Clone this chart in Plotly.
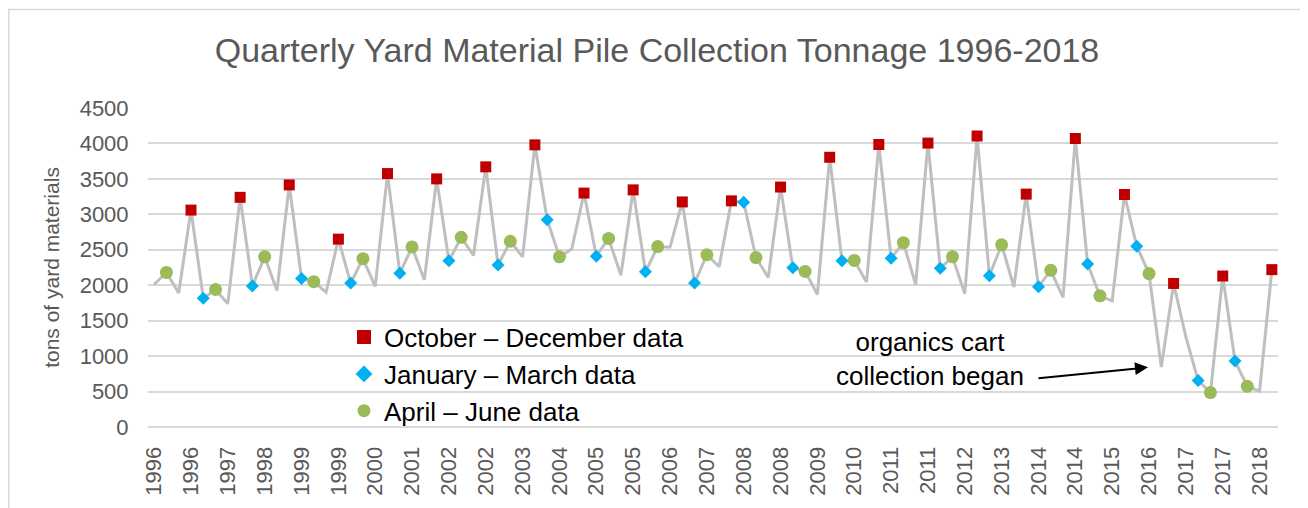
import plotly.graph_objects as go

# ---- data ----
tonnage = [
    2010, 2180, 1890, 3060, 1815, 1940, 1740, 3240, 1990, 2400,
    1925, 3415, 2095, 2050, 1900, 2650, 2030, 2375, 1985, 3575,
    2170, 2540, 2075, 3500, 2345, 2675, 2420, 3670, 2285, 2620,
    2400, 3980, 2925, 2400, 2510, 3300, 2410, 2660, 2140, 3345,
    2190, 2545, 2535, 3175, 2030, 2430, 2260, 3190, 3170, 2390,
    2110, 3385, 2245, 2195, 1870, 3805, 2345, 2350, 2045, 3985,
    2380, 2600, 2010, 4005, 2240, 2400, 1880, 4105, 2135, 2570,
    1975, 3285, 1980, 2210, 1830, 4070, 2300, 1850, 1780, 3280,
    2550, 2165, 845, 2025, 1270, 655, 485, 2130, 930, 575,
    505, 2220,
]
# season of each point: "OD" Oct-Dec, "JM" Jan-Mar, "AJ" Apr-Jun, "" unmarked
season = [
    "", "AJ", "", "OD", "JM", "AJ", "", "OD", "JM", "AJ",
    "", "OD", "JM", "AJ", "", "OD", "JM", "AJ", "", "OD",
    "JM", "AJ", "", "OD", "JM", "AJ", "", "OD", "JM", "AJ",
    "", "OD", "JM", "AJ", "", "OD", "JM", "AJ", "", "OD",
    "JM", "AJ", "", "OD", "JM", "AJ", "", "OD", "JM", "AJ",
    "", "OD", "JM", "AJ", "", "OD", "JM", "AJ", "", "OD",
    "JM", "AJ", "", "OD", "JM", "AJ", "", "OD", "JM", "AJ",
    "", "OD", "JM", "AJ", "", "OD", "JM", "AJ", "", "OD",
    "JM", "AJ", "", "OD", "", "JM", "AJ", "OD", "JM", "AJ",
    "", "OD",
]
tick_labels = ["1996", "1996", "1997", "1998", "1999", "1999", "2000", "2001",
               "2002", "2002", "2003", "2004", "2005", "2005", "2006", "2007",
               "2008", "2008", "2009", "2010", "2011", "2011", "2012", "2013",
               "2014", "2014", "2015", "2016", "2017", "2017", "2018"]
series_names = {"OD": "October \u2013 December data",
                "JM": "January \u2013 March data",
                "AJ": "April \u2013 June data"}

x_idx = list(range(len(tonnage)))
tick_vals = x_idx[::3]

FONT = "Liberation Sans"
GREY = "#595959"

fig = go.Figure()
fig.add_trace(go.Scatter(x=x_idx, y=tonnage, mode="lines",
                         line=dict(color="#BFBFBF", width=3),
                         showlegend=False, hoverinfo="skip"))

styles = {
    "OD": dict(symbol="square", color="#C00000", size=11, lsize=14),
    "JM": dict(symbol="diamond", color="#00B0F0", size=10, lsize=13),
    "AJ": dict(symbol="circle", color="#9BBB59", size=13, lsize=13),
}
for key in ["OD", "JM", "AJ"]:
    st = styles[key]
    xs = [i for i, s in zip(x_idx, season) if s == key]
    ys = [v for v, s in zip(tonnage, season) if s == key]
    fig.add_trace(go.Scatter(x=xs, y=ys, mode="markers", name=series_names[key],
                             marker=dict(symbol=st["symbol"], color=st["color"],
                                         size=st["size"], line=dict(width=0)),
                             showlegend=False))
    # legend entry with the larger legend symbol
    fig.add_trace(go.Scatter(x=[None], y=[None], mode="markers", name=series_names[key],
                             marker=dict(symbol=st["symbol"], color=st["color"],
                                         size=st["lsize"], line=dict(width=0)),
                             showlegend=True))

# the page body adds an 8px offset; figure is sized to fit the window
OFF = 8
W, H = 1300, 500
L, R, T, B = 140, 30, 100, 79
pw, ph = W - L - R, H - T - B

def px_x(p):  # page x -> paper
    return (p - OFF - L) / pw

def px_y(p):  # page y -> paper
    return (H - B - (p - OFF)) / ph

fig.update_layout(
    width=W, height=H,
    margin=dict(l=L, r=R, t=T, b=B),
    paper_bgcolor="white", plot_bgcolor="white",
    title=dict(text="Quarterly Yard Material Pile Collection Tonnage 1996-2018",
               font=dict(family=FONT, size=34, color=GREY),
               x=(657 - OFF) / W, xanchor="center",
               y=1 - (50 - OFF) / H, yanchor="middle",
               xref="container", yref="container"),
    xaxis=dict(range=[-0.5, len(tonnage) - 0.5], tickmode="array",
               tickvals=tick_vals, ticktext=tick_labels, tickangle=-90,
               tickfont=dict(family=FONT, size=22, color=GREY),
               showgrid=False, zeroline=False, showline=False,
               ticks="outside", ticklen=10, tickcolor="rgba(0,0,0,0)"),
    yaxis=dict(range=[0, 4500], tickmode="linear", tick0=0, dtick=500,
               tickfont=dict(family=FONT, size=22, color=GREY),
               showgrid=True, gridcolor="#D9D9D9", gridwidth=1.5,
               zeroline=True, zerolinecolor="#D9D9D9", zerolinewidth=1.5,
               showline=False, ticks="outside", ticklen=14,
               tickcolor="rgba(0,0,0,0)",
               title=dict(text="tons of yard materials",
                          font=dict(family=FONT, size=21, color=GREY),
                          standoff=14)),
    legend=dict(x=px_x(344), y=px_y(315), xanchor="left", yanchor="top",
                bgcolor="rgba(0,0,0,0)",
                font=dict(family=FONT, size=26, color="black"),
                tracegroupgap=0, itemsizing="trace"),
    showlegend=True,
)

fig.add_annotation(text="organics cart<br>collection began", xref="paper", yref="paper",
                   x=px_x(930), y=px_y(361), xanchor="center", yanchor="middle",
                   showarrow=False, font=dict(family=FONT, size=26, color="black"))
fig.add_annotation(text="", xref="paper", yref="paper",
                   x=px_x(1148), y=px_y(369), ax=-111, ay=11,
                   showarrow=True, arrowhead=2, arrowsize=1.3, arrowwidth=2,
                   arrowcolor="black", standoff=0)

fig.add_shape(type="rect", xref="paper", yref="paper",
              x0=px_x(OFF + 0.8), x1=px_x(1305), y0=px_y(530), y1=px_y(OFF + 1),
              line=dict(color="#D9D9D9", width=1.5), fillcolor="rgba(0,0,0,0)",
              layer="below")

fig.write_html("out.html")
